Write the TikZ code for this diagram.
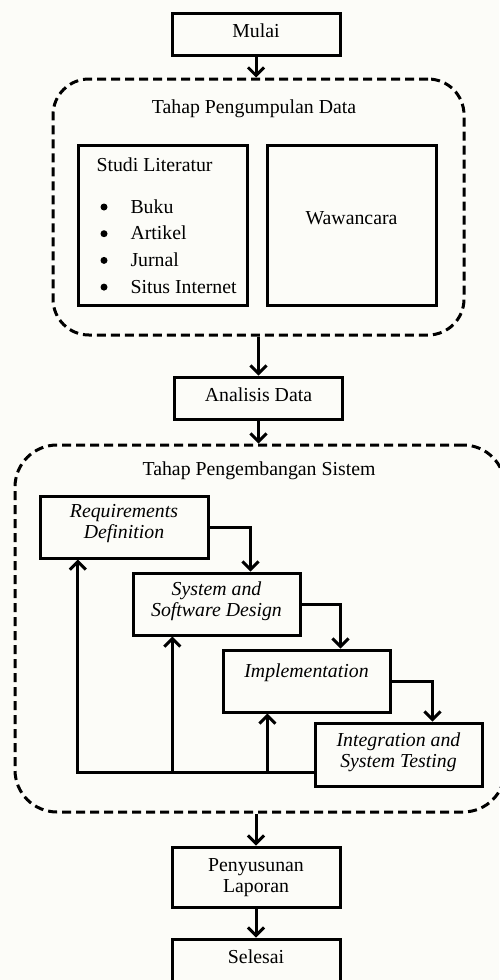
\documentclass[tikz,border=0pt]{standalone}
\usepackage{fontspec}
\setmainfont{Liberation Serif}
\usepackage{tikz}
\usetikzlibrary{positioning, calc, arrows.meta}

\definecolor{latar}{RGB}{252,252,248}

\begin{document}
\begin{tikzpicture}[x=1pt, y=-1pt,
    teks/.style={font=\fontsize{19.8}{21}\selectfont},
    kotak/.style={teks, rectangle, draw=black, line width=3pt, minimum
      width=168pt, minimum height=42pt, text depth=6pt},
    proses/.style={kotak, minimum height=62pt, align=center, text
      depth=9pt, font=\fontsize{19.8}{21}\selectfont\itshape},
    tahap/.style={rectangle, draw=black, line width=3pt, dash
      pattern=on 9pt off 5pt, rounded corners=36pt},
    titik/.style={circle, fill=black, inner sep=0pt, minimum size=7pt},
    panah/.style={line width=3pt, -{Straight Barb[length=8pt, width=16pt]}}
    ]

    \useasboundingbox (0,0) rectangle (499,980);
    \fill[latar] (0,0) rectangle (499,980);

    % Awal
    \node[kotak] (Mulai) at (256,34) {Mulai};

    % Tahap Pengumpulan Data
    \node[tahap, minimum width=411pt, minimum height=256pt] (TahapData)
    at (258.5,207) {};
    \node[teks, anchor=base] (judulData) at (254,113) {Tahap Pengumpulan Data};

    \node[kotak, minimum width=169pt, minimum height=160pt] (StudiLiteratur)
    at (162.5,225) {};
    \node[kotak, minimum width=169pt, minimum height=160pt, text depth=13pt,
      right=17pt of StudiLiteratur] (Wawancara) {Wawancara};

    \node[teks, anchor=base west] (judulStudi) at (93,171) {Studi Literatur};
    \foreach \sumber [count=\i] in {Buku, Artikel, Jurnal, Situs Internet} {
      \node[titik] (titik\i) at (104,{207+(\i-1)*26.7}) {};
      \node[teks, anchor=base west] (sumber\i) at (127,{213+(\i-1)*26.7}) {\sumber};
    }

    % Analisis
    \node[kotak, below=39pt of TahapData] (AnalisisData) {Analisis Data};

    % Tahap Pengembangan Sistem
    \node[tahap, rounded corners=42pt, minimum width=490pt, minimum
      height=367pt] (TahapSistem) at (260,628.5) {};
    \node[teks, anchor=base] (judulSistem) at (259,475) {Tahap Pengembangan Sistem};

    \node[proses, text depth=11pt] (Requirements) at (124,527)
    {Requirements\\Definition};
    \node[proses, minimum width=167pt, below right=12pt and -78pt of
      Requirements] (Design) {System and\\Software Design};
    \node[proses, minimum width=167pt, text depth=20pt, below right=12pt
      and -80pt of Design] (Implementation) {Implementation};
    \node[proses, minimum width=167pt, minimum height=63pt, below
      right=8pt and -78pt of Implementation] (Integration)
    {Integration and\\System Testing};

    % Alur waterfall
    \draw[panah] (Requirements.east) -| ($(Design.north west)!0.7!(Design.north east)$);
    \draw[panah] (Design.east) -| ($(Implementation.north west)!0.7!(Implementation.north east)$);
    \draw[panah] (Implementation.east) -| ($(Integration.north west)!0.7!(Integration.north east)$);

    % Umpan balik
    \coordinate (balik) at ($(Integration.west)!0.55!(Integration.south west)$);
    \coordinate (masukReq) at ($(Requirements.south west)!0.23!(Requirements.south east)$);
    \coordinate (masukDesign) at ($(Design.south west)!0.24!(Design.south east)$);
    \coordinate (masukImpl) at ($(Implementation.south west)!0.27!(Implementation.south east)$);
    \draw[panah] (balik) -| (masukReq);
    \draw[panah] (masukDesign |- balik) -- (masukDesign);
    \draw[panah] (masukImpl |- balik) -- (masukImpl);

    % Akhir
    \node[kotak, minimum height=60pt, align=center, text depth=2pt]
    (Penyusunan) at (256,877) {Penyusunan\\Laporan};
    \node[kotak, below=29pt of Penyusunan] (Selesai) {Selesai};

    % Panah utama
    \draw[panah] (Mulai) -- (Mulai |- TahapData.north);
    \draw[panah] (TahapData) -- (AnalisisData);
    \draw[panah] (AnalisisData) -- (AnalisisData |- TahapSistem.north);
    \draw[panah] (TahapSistem.south -| Penyusunan) -- (Penyusunan);
    \draw[panah] (Penyusunan) -- (Selesai);

  \end{tikzpicture}
\end{document}
